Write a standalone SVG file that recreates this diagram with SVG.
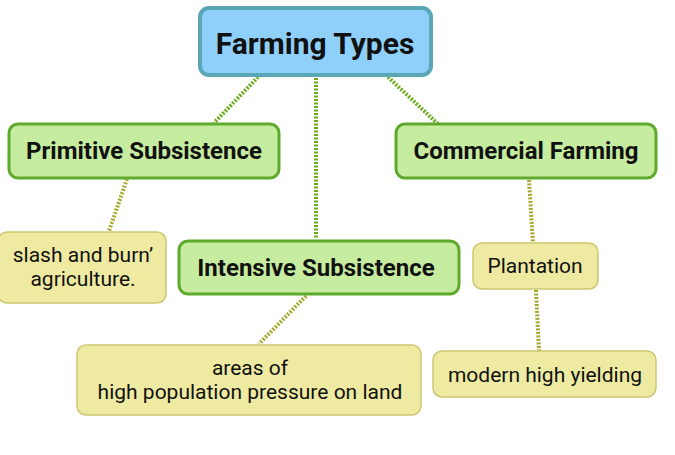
<svg xmlns="http://www.w3.org/2000/svg" width="675" height="455" viewBox="0 0 675 455">
<style>
.root{fill:#8fd0fb;stroke:#58a6b6;stroke-width:4}
.main{fill:#c6ec9f;stroke:#5fa92c;stroke-width:3}
.leaf{fill:#eeeaa2;stroke:#cdc773;stroke-width:1.5}
.t{font-family:Roboto,"Liberation Sans",sans-serif;fill:#111;text-anchor:middle}
.b{font-weight:bold}
.c1{stroke:#6aab1c;stroke-width:4;stroke-dasharray:2 1.5;fill:none}
.c2{stroke:#a6a82e;stroke-width:4;stroke-dasharray:2 1.5;fill:none}
</style>
<rect width="675" height="455" fill="#fff"/>
<g id="connectors">
<line class="c1" x1="258" y1="77" x2="214" y2="123"/>
<line class="c1" x1="316" y1="78" x2="316" y2="239"/>
<line class="c1" x1="388" y1="77" x2="438" y2="124"/>
<line class="c2" x1="127" y1="179" x2="109" y2="231"/>
<line class="c2" x1="306" y1="296" x2="259" y2="344"/>
<line class="c2" x1="529" y1="180" x2="533" y2="243"/>
<line class="c2" x1="536" y1="290" x2="539" y2="351"/>
</g>
<g id="farming-types">
<rect class="root" x="200" y="8" width="231" height="67" rx="9"/>
<text class="t b" x="315" y="54" font-size="30">Farming Types</text>
</g>
<g id="primitive-subsistence">
<rect class="main" x="9" y="124" width="270" height="54" rx="9"/>
<text class="t b" x="144" y="159" font-size="24">Primitive Subsistence</text>
</g>
<g id="commercial-farming">
<rect class="main" x="396" y="124" width="260" height="54" rx="9"/>
<text class="t b" x="526" y="159" font-size="24">Commercial Farming</text>
</g>
<g id="intensive-subsistence">
<rect class="main" x="179" y="241" width="280" height="53" rx="9"/>
<text class="t b" x="316" y="276" font-size="24">Intensive Subsistence</text>
</g>
<g id="slash-burn">
<rect class="leaf" x="-2" y="232" width="168" height="71" rx="9"/>
<text class="t" x="83" y="262" font-size="21">slash and burn’</text>
<text class="t" x="83" y="286" font-size="21">agriculture.</text>
</g>
<g id="areas">
<rect class="leaf" x="77" y="345" width="344" height="70" rx="9"/>
<text class="t" x="250" y="375" font-size="21">areas of</text>
<text class="t" x="250" y="399" font-size="21">high population pressure on land</text>
</g>
<g id="plantation">
<rect class="leaf" x="473" y="243" width="125" height="46" rx="9"/>
<text class="t" x="535" y="273" font-size="21">Plantation</text>
</g>
<g id="modern-high-yielding">
<rect class="leaf" x="433" y="351" width="223" height="46" rx="9"/>
<text class="t" x="545" y="382" font-size="21">modern high yielding</text>
</g>
</svg>
